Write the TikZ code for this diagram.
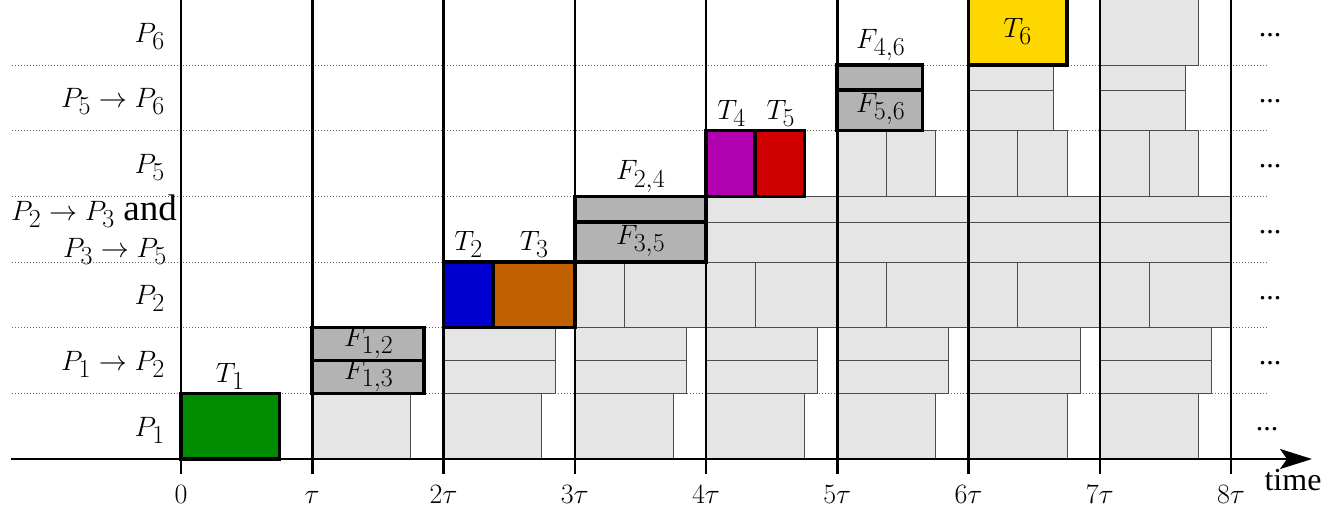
\RequirePackage{fix-cm}
\documentclass[tikz,border=0pt]{standalone}
\usepackage{fontspec}
\usetikzlibrary{arrows.meta}
\newfontfamily\tms{Liberation Serif}
\DeclareMathSizes{28}{28}{26}{20}
\definecolor{lgray}{HTML}{E5E5E5}
\definecolor{dgray}{HTML}{B3B3B3}
\definecolor{tgreen}{HTML}{008C00}
\definecolor{tblue}{HTML}{0000D0}
\definecolor{torange}{HTML}{C06000}
\definecolor{tpurple}{HTML}{B000B0}
\definecolor{tred}{HTML}{D00000}
\definecolor{tyellow}{HTML}{FFD700}
\newcommand{\lgbox}[4]{\draw[lg] ({181+131.25*(#1)},#3) rectangle ({181+131.25*(#2)},#4);}
\newcommand{\colbox}[5]{\draw[#5] ({181+131.25*(#1)},#3) rectangle ({181+131.25*(#2)},#4);}
\begin{document}
\begin{tikzpicture}[x=1pt,y=-1pt,font=\fontsize{28}{32}\selectfont,
  lg/.style={fill=lgray,draw=black!70,line width=0.9pt},
  thick box/.style={draw=black,line width=3.6pt,fill=#1},
  vline/.style={line width=2.5pt},
  dotline/.style={black!60,line width=0.8pt,dash pattern=on 1pt off 2pt},
  rowlab/.style={anchor=base east,inner sep=0pt},
  toplab/.style={above,inner sep=4pt},
  inlab/.style={inner sep=0pt},
  ticklab/.style={anchor=base,inner sep=0pt},
  dotlab/.style={anchor=base,inner sep=0pt,font=\tms\fontsize{30}{30}\selectfont}]
\useasboundingbox (0,0) rectangle (1338,514);
% dotted row separators
\foreach \yy in {393.33,327.67,262,196.33,130.67,65}
  \draw[dotline] (12,\yy) -- (1268,\yy);
% light grey (periodic) blocks
\foreach \k in {1,...,7} \lgbox{\k}{\k+0.75}{393.33}{459}
\foreach \k in {2,...,7} {\lgbox{\k}{\k+0.85}{327.67}{360.5}\lgbox{\k}{\k+0.85}{360.5}{393.33}}
\foreach \k in {3,...,7} {\lgbox{\k}{\k+0.375}{262}{327.67}\lgbox{\k+0.375}{\k+1}{262}{327.67}}
\foreach \k in {4,...,7} {\lgbox{\k}{\k+1}{196.33}{222}\lgbox{\k}{\k+1}{222}{262}}
\foreach \k in {5,...,7} {\lgbox{\k}{\k+0.375}{130.67}{196.33}\lgbox{\k+0.375}{\k+0.75}{130.67}{196.33}}
\foreach \k in {6,7} {\lgbox{\k}{\k+0.65}{65}{90}\lgbox{\k}{\k+0.65}{90}{130.67}}
\lgbox{7}{7.75}{-2}{65}
% time grid lines
\foreach \k in {0,...,8} {
  \coordinate (top\k) at ({181+131.25*\k},0);
  \coordinate (bot\k) at ({181+131.25*\k},474);
  \draw[vline] (top\k) -- (bot\k);
}
% axis
\coordinate (axs) at (11,459);
\coordinate (axe) at (1312,459);
\draw[line width=2pt,-{Stealth[length=32pt,width=20pt,inset=7pt]}] (axs) -- (axe);
% coloured tasks and first flows
\colbox{0}{0.75}{393.33}{459}{thick box=tgreen}
\colbox{1}{1.85}{327.67}{360.5}{thick box=dgray}
\colbox{1}{1.85}{360.5}{393.33}{thick box=dgray}
\colbox{2}{2.375}{262}{327.67}{thick box=tblue}
\colbox{2.375}{3}{262}{327.67}{thick box=torange}
\colbox{3}{4}{196.33}{222}{thick box=dgray}
\colbox{3}{4}{222}{262}{thick box=dgray}
\colbox{4}{4.375}{130.67}{196.33}{thick box=tpurple}
\colbox{4.375}{4.75}{130.67}{196.33}{thick box=tred}
\colbox{5}{5.65}{65}{90}{thick box=dgray}
\colbox{5}{5.65}{90}{130.67}{thick box=dgray}
\colbox{6}{6.75}{-2}{65}{thick box=tyellow}
% task / flow labels
\node[toplab] (t1) at (230.2,393.33) {$T_1$};
\node[toplab] (t2) at (468.6,262) {$T_2$};
\node[toplab] (t3) at (534.2,262) {$T_3$};
\node[toplab] (f24) at (640.6,196.33) {$F_{2,4}$};
\node[toplab] (t4) at (731.6,130.67) {$T_4$};
\node[toplab] (t5) at (780.8,130.67) {$T_5$};
\node[toplab] (f46) at (880.7,65) {$F_{4,6}$};
\node[inlab] (f12) at (368.8,343) {$F_{1,2}$};
\node[inlab] (f13) at (368.8,376) {$F_{1,3}$};
\node[inlab] (f35) at (640.6,241) {$F_{3,5}$};
\node[inlab] (f56) at (880.7,109) {$F_{5,6}$};
\node[inlab] (t6) at (1017.5,31) {$T_6$};
% row labels
\node[rowlab] (r0) at (165,436) {$P_1$};
\node[rowlab] (r1) at (165,370.5) {$P_1\to P_2$};
\node[rowlab] (r2) at (165,304.8) {$P_2$};
\node[rowlab] (r3a) at (177,220) {$P_2\to P_3$ {\tms\fontsize{37}{37}\selectfont and}};
\node[rowlab] (r3b) at (167,257) {$P_3\to P_5$};
\node[rowlab] (r4) at (165,173.5) {$P_5$};
\node[rowlab] (r5) at (165,107.8) {$P_5\to P_6$};
\node[rowlab] (r6) at (165,42) {$P_6$};
% tick labels
\node[ticklab] (x0) at (181,503) {$0$};
\node[ticklab] (x1) at (312.25,503) {$\tau$};
\node[ticklab] (x2) at (443.5,503) {$2\tau$};
\node[ticklab] (x3) at (574.75,503) {$3\tau$};
\node[ticklab] (x4) at (706,503) {$4\tau$};
\node[ticklab] (x5) at (837.25,503) {$5\tau$};
\node[ticklab] (x6) at (968.5,503) {$6\tau$};
\node[ticklab] (x7) at (1099.75,503) {$7\tau$};
\node[ticklab] (x8) at (1231,503) {$8\tau$};
\node[anchor=base,inner sep=0pt] (tm) at (1293,490) {\tms\fontsize{32}{32}\selectfont time};
% continuation dots
\node[dotlab] (d0) at (1267,430) {...};
\node[dotlab] (d1) at (1270,364) {...};
\node[dotlab] (d2) at (1270,299) {...};
\node[dotlab] (d3) at (1270,233) {...};
\node[dotlab] (d4) at (1270,167) {...};
\node[dotlab] (d5) at (1270,102) {...};
\node[dotlab] (d6) at (1270,36) {...};
\end{tikzpicture}
\end{document}
